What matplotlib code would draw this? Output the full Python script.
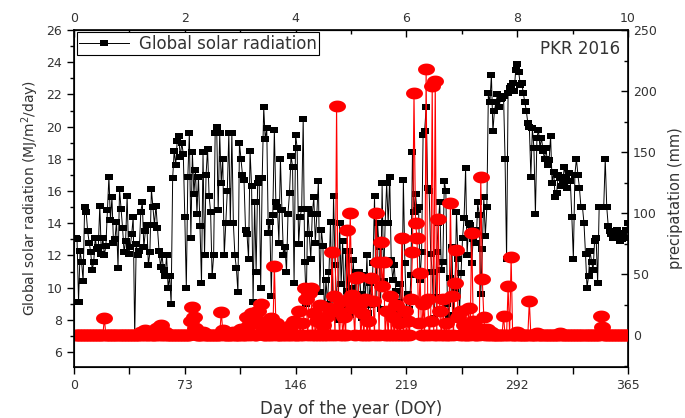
import numpy as np
import matplotlib
matplotlib.use("Agg")
import matplotlib.pyplot as plt
from matplotlib.path import Path
from matplotlib.ticker import MultipleLocator, FixedLocator

plt.rcParams['font.family'] = ['DejaVu Sans']

# Daily global solar radiation (MJ/m^2/day), day 1..365
solar_mj = [
    # days 1-52
    13.1, 13.0, 9.1, 12.3, 11.6, 10.4, 15.0, 14.7, 13.5, 12.8,
    12.2, 11.1, 11.6, 13.1, 12.4, 12.5, 15.1, 12.1, 13.1, 12.0,
    12.6, 14.8, 16.9, 14.2, 15.6, 12.8, 13.0, 14.1, 11.2, 16.1,
    14.9, 13.7, 12.2, 12.9, 15.7, 12.1, 12.5, 13.3, 14.4, 7.0,
    12.7, 12.0, 12.3, 14.7, 15.3, 12.5, 13.5, 13.9, 11.4, 12.2,
    16.1, 15.0,
    # days 53-103
    13.9, 15.1, 13.7, 12.3, 11.3, 12.0, 11.1, 10.7, 12.0, 10.0, 10.7, 9.0,
    16.8, 18.5, 17.6, 19.1, 19.4, 18.1, 19.0, 18.3, 14.4, 10.0,
    16.9, 19.6, 13.1, 18.4, 15.8, 17.3, 14.6, 16.9, 13.8, 10.3,
    18.4, 12.0, 17.0, 18.6, 15.7, 14.7, 10.7, 12.0, 19.6, 20.0,
    14.8, 19.6, 16.5, 18.0, 12.0, 14.0, 16.0, 19.6, 14.0,
    # days 104-155
    19.6, 14.0, 12.0, 11.2, 9.7, 19.0, 18.0, 17.0, 16.7, 13.6,
    13.3, 11.8, 18.5, 16.3, 9.1, 15.3, 11.0, 16.5, 16.8, 10.0,
    16.8, 21.2, 19.2, 19.9, 13.4, 14.1, 9.5, 14.5, 19.8, 15.3,
    15.0, 12.8, 18.0, 14.8, 12.0, 12.5, 11.0, 14.6, 15.9, 18.2,
    17.5, 10.3, 19.5, 18.7, 12.7, 14.4, 14.9, 20.5, 11.6, 9.0,
    14.9, 13.3,
    # days 156-205
    11.8, 14.6, 15.6, 12.8, 14.6, 16.6, 9.7, 13.6, 12.6, 8.2,
    10.5, 9.0, 11.0, 14.1, 8.5, 15.7, 11.4, 9.5, 8.0, 14.0,
    10.2, 12.9, 8.8, 12.3, 9.8, 12.3, 8.3, 10.0, 11.7, 9.2,
    11.0, 8.6, 11.0, 9.6, 8.1, 10.8, 9.4, 12.0, 8.4, 10.3,
    8.9, 11.5, 15.7, 9.1, 14.0, 12.5, 8.7, 16.5, 10.4, 14.0,
    # days 206-256
    16.5, 14.0, 16.9, 11.7, 10.5, 11.4, 9.8, 8.4, 9.1, 10.2,
    8.0, 16.7, 11.5, 8.6, 9.6, 8.7, 10.8, 18.4, 14.7, 15.8,
    14.8, 15.0, 10.5, 12.2, 19.5, 19.7, 21.2, 16.2, 16.0, 12.1,
    11.0, 8.1, 9.4, 12.2, 14.0, 15.3, 11.1, 11.6, 16.6, 16.0,
    9.0, 8.3, 10.6, 12.5, 8.2, 9.9, 14.7, 11.8, 8.5, 10.9,
    13.1,
    # days 257-306
    14.3, 17.4, 12.0, 14.0, 13.9, 11.5, 13.0, 13.6, 12.8, 15.3,
    14.5, 9.6, 12.4, 15.6, 13.2, 15.0,
    22.1, 21.5, 23.2, 19.7, 21.0, 21.5, 22.0, 21.2, 21.7, 21.8,
    21.9, 18.0, 11.8, 22.1, 22.4, 22.5, 22.7, 22.2, 23.5, 23.9,
    23.4, 22.6, 22.7, 22.1, 21.5, 21.0, 20.2, 20.0, 16.9, 19.9,
    18.7, 14.6, 19.3, 19.8,
    # days 307-365
    18.7, 19.3, 18.5, 18.0, 18.7, 17.6, 17.9, 19.4, 16.5, 17.2,
    15.6, 15.9, 17.0, 16.8, 16.3, 16.5, 17.5, 16.9, 16.2, 17.1,
    16.6, 14.4, 11.8, 17.0, 18.0, 17.0, 16.2, 15.0, 15.0, 14.0,
    12.1, 10.0, 10.7, 12.3, 11.6, 11.1, 12.9, 13.1, 10.3, 15.0,
    15.0, 15.0, 15.0, 18.0, 15.0, 13.8, 13.5, 13.3, 13.1, 13.4,
    13.3, 13.6, 13.2, 12.9, 13.0, 13.4, 13.1, 13.6, 14.0,
]

# Rain days (DOY) and daily precipitation (mm); all other days are 0
rain_day = [20, 44, 47, 50, 55, 57, 60, 77, 78, 79, 80, 85, 97, 98, 105, 110,
            114, 115, 117, 118, 121, 122, 123, 124, 127, 130, 132, 133, 137,
            140, 143, 145, 148, 150, 152, 153, 155, 156, 158, 160, 162, 164,
            166, 168, 170, 171, 173, 174, 176, 178, 180, 181, 182, 183, 184,
            186, 187, 188, 190, 192, 194, 196, 197, 199, 200, 202, 203, 204,
            206, 208, 210, 212, 214, 216, 218, 220, 222, 223, 224, 225, 226,
            227, 228, 230, 232, 233, 235, 236, 238, 240, 241, 243, 245, 248,
            249, 251, 252, 253, 255, 257, 260, 262, 263, 266, 268, 269, 270,
            272, 275, 283, 286, 288, 292, 300, 305, 320, 347, 348]
rain_mm = [14, 3, 4, 2, 6, 8, 3, 12, 23, 15, 6, 3, 19, 4, 3, 5,
           15, 8, 18, 10, 20, 12, 26, 8, 5, 14, 57, 10, 6,
           4, 8, 12, 20, 10, 39, 30, 35, 39, 18, 12, 25, 8,
           15, 22, 68, 32, 188, 20, 28, 15, 86, 30, 100, 33, 22,
           47, 48, 25, 18, 30, 12, 47, 28, 100, 60, 76, 40, 60,
           20, 32, 15, 25, 10, 80, 20, 12, 30, 68, 198, 92, 80,
           10, 51, 26, 218, 30, 12, 204, 208, 95, 20, 30, 10, 108,
           32, 43, 70, 15, 20, 8, 22, 84, 12, 6, 130, 46, 15,
           5, 3, 16, 40, 64, 3, 28, 2, 2, 16, 7]

days = np.arange(1, len(solar_mj) + 1)
precip = np.zeros(len(days))
for d, v in zip(rain_day, rain_mm):
    precip[d - 1] = v

# marker shapes (wide rectangle / wide ellipse as in the reference)
rect = Path([(-1, -0.72), (1, -0.72), (1, 0.72), (-1, 0.72), (-1, -0.72)],
            [Path.MOVETO, Path.LINETO, Path.LINETO, Path.LINETO, Path.CLOSEPOLY])
th = np.linspace(0, 2 * np.pi, 48)
ell = Path(np.column_stack([np.cos(th), 0.7 * np.sin(th)]), closed=True)

txt = '#333333'
fig = plt.figure(figsize=(6.85, 4.18), dpi=100)
ax = fig.add_axes([74 / 685, 1 - 367 / 418, (628 - 74) / 685, (367 - 30) / 418])

ax.plot(days, solar_mj, color='black', lw=0.7, marker=rect, ms=6.0,
        mfc='black', mec='black', mew=0, label='Global solar radiation')
ax.set_xlim(0, 365)
ax.set_ylim(5.07, 26)
ax.xaxis.set_major_locator(FixedLocator([0, 73, 146, 219, 292, 365]))
ax.xaxis.set_minor_locator(FixedLocator([36.5, 109.5, 182.5, 255.5, 328.5]))
ax.yaxis.set_major_locator(MultipleLocator(2))
ax.yaxis.set_minor_locator(MultipleLocator(1))
ax.tick_params(axis='both', which='major', direction='out', length=5, width=1,
               labelsize=9, labelcolor=txt)
ax.tick_params(axis='both', which='minor', direction='out', length=3, width=1)
ax.tick_params(axis='x', which='minor', length=5)
ax.set_xlabel('Day of the year (DOY)', fontsize=12, color=txt, labelpad=6)
ax.set_ylabel('Global solar radiation (MJ/m$^2$/day)', fontsize=10, color=txt,
              labelpad=4)
for s in ax.spines.values():
    s.set_linewidth(1.2)

ax2 = ax.twinx()
ax2.plot(days, precip, color='red', lw=0.8, marker=ell, ms=12.2,
         mfc='red', mec='red', mew=0)
ax2.set_ylim(-26, 250)
ax2.yaxis.set_major_locator(MultipleLocator(50))
ax2.yaxis.set_minor_locator(MultipleLocator(25))
ax2.tick_params(axis='y', which='major', direction='in', length=5, width=1,
                labelsize=9, labelcolor=txt)
ax2.tick_params(axis='y', which='minor', direction='in', length=3, width=1)
ax2.set_ylabel('precipatation (mm)', fontsize=10.5, color=txt, labelpad=8)

top = ax.secondary_xaxis('top', functions=(lambda x: x / 36.5, lambda x: x * 36.5))
top.xaxis.set_major_locator(FixedLocator([0, 2, 4, 6, 8, 10]))
top.xaxis.set_minor_locator(FixedLocator([1, 3, 5, 7, 9]))
top.tick_params(axis='x', which='major', direction='in', length=5, width=1,
                labelsize=9, labelcolor=txt)
top.tick_params(axis='x', which='minor', direction='in', length=3, width=1)

leg = ax.legend(loc='upper left', bbox_to_anchor=(0.0, 1.0), borderaxespad=0.15,
                fontsize=12, frameon=True, fancybox=False, framealpha=1,
                edgecolor='black', handlelength=3.0, borderpad=0.15,
                handletextpad=0.6)
leg.get_frame().set_linewidth(0.8)
for t in leg.get_texts():
    t.set_color(txt)
leg.set_zorder(10)

ax2.text(0.985, 0.945, 'PKR 2016', transform=ax2.transAxes, ha='right',
         va='center', fontsize=12, color=txt)

fig.savefig('out.png', dpi=100)
